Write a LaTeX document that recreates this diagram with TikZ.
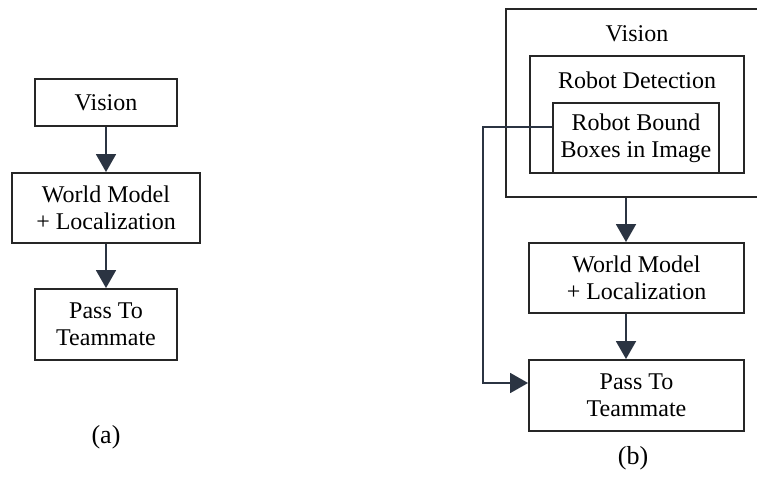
\documentclass[tikz,border=0pt]{standalone}
\usepackage{fontspec}
\setmainfont{Liberation Serif}
\usetikzlibrary{arrows.meta}
\definecolor{ln}{HTML}{262626}
\definecolor{ar}{HTML}{2B3442}
\begin{document}
\begin{tikzpicture}[x=1pt,y=-1pt,
  box/.style={draw=ln,line width=1.9pt,rectangle,inner sep=0pt,align=center,
    font=\fontsize{24}{27}\selectfont},
  txt/.style={inner sep=0pt,align=center,font=\fontsize{24}{27}\selectfont},
  arr/.style={draw=ar,line width=1.9pt,-{Triangle[width=20pt,length=18pt]}},
  lbl/.style={inner sep=0pt,font=\fontsize{26}{30}\selectfont}]
\useasboundingbox (0,0) rectangle (757,481);
% (a)
\node[box,minimum width=142pt,minimum height=47pt] (av) at (106,102.5) {Vision};
\node[box,minimum width=188pt,minimum height=70pt] (aw) at (106,208) {World Model\\+ Localization};
\node[box,minimum width=142pt,minimum height=71pt] (ap) at (106,324.5) {Pass To\\Teammate};
\draw[arr] (av) -- (aw);
\draw[arr] (aw) -- (ap);
\node[lbl] (la) at (106,437) {(a)};
% (b)
\begin{scope}
\clip (0,0) rectangle (757,481);
\node[box,minimum width=262pt,minimum height=188pt] (bo) at (637,103) {};
\end{scope}
\node[txt] (bv) at (637,34) {Vision};
\node[box,minimum width=214pt,minimum height=117pt] (bd) at (637,114.5) {};
\node[txt] (bdt) at (637,80) {Robot Detection};
\node[box,minimum width=166pt,minimum height=70pt] (bb) at (636,138) {Robot Bound\\Boxes in Image};
\node[box,minimum width=215pt,minimum height=70pt] (bw) at (636.5,278) {World Model\\+ Localization};
\node[box,minimum width=215pt,minimum height=71pt] (bp) at (636.5,395.5) {Pass To\\Teammate};
\coordinate (ax) at (626,0);
\draw[arr] (ax |- bo.south) -- (ax |- bw.north);
\draw[arr] (ax |- bw.south) -- (ax |- bp.north);
\coordinate (fb) at (483,0);
\coordinate (fs) at ([yshift=11pt]bb.west);
\coordinate (fe) at ([yshift=12.5pt]bp.west);
\draw[arr] (fs) -| (fb |- fe) -- (fe);
\node[lbl] (lb) at (633,458) {(b)};
\end{tikzpicture}
\end{document}
